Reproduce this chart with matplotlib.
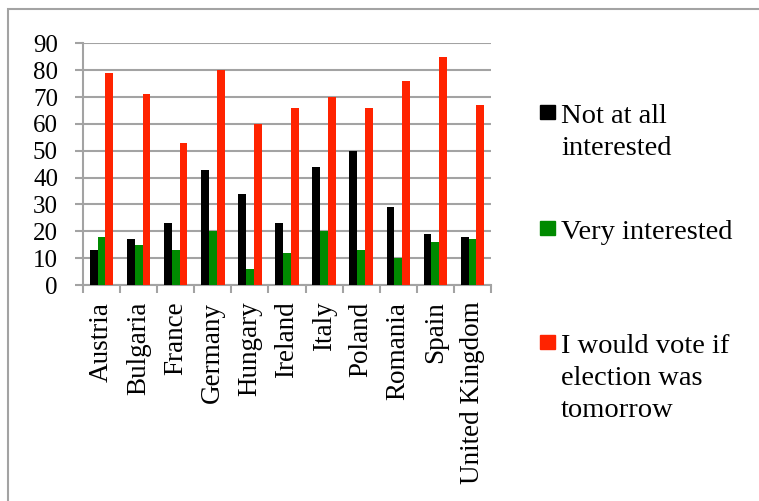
import numpy as np
import matplotlib
matplotlib.use("Agg")
import matplotlib.pyplot as plt
from matplotlib.patches import Rectangle

countries = ["Austria", "Bulgaria", "France", "Germany", "Hungary", "Ireland",
             "Italy", "Poland", "Romania", "Spain", "United Kingdom"]
not_interested = [13, 17, 23, 43, 34, 23, 44, 50, 29, 19, 18]
very_interested = [18, 15, 13, 20, 6, 12, 20, 13, 10, 16, 17]
would_vote = [79, 71, 53, 80, 60, 66, 70, 66, 76, 85, 67]

series = [not_interested, very_interested, would_vote]
labels = ["Not at all\ninterested", "Very interested",
          "I would vote if\nelection was\ntomorrow"]
colors = ["#000000", "#008a00", "#ff2300"]

plt.rcParams['font.family'] = ['Liberation Serif', 'DejaVu Serif']
grey = "#a3a3a3"

fig = plt.figure(figsize=(7.59, 5.01), dpi=100)
ax = fig.add_axes([83/759, 216/501, 408/759, 241.7/501])

x = np.arange(len(countries))
w = 0.21
for k, (vals, col) in enumerate(zip(series, colors)):
    ax.bar(x + (k - 1) * w, vals, width=w, color=col, zorder=3)

ax.set_xlim(-0.5, len(countries) - 0.5)
ax.set_ylim(0, 90)
ax.set_yticks(range(0, 91, 10))
ax.yaxis.grid(True, color=grey, lw=1.5, zorder=0)

# ticks sit on category boundaries, names in the middle
ax.set_xticks(np.arange(len(countries) + 1) - 0.5)
ax.set_xticklabels([])
ax.set_xticks(x, minor=True)
ax.set_xticklabels(countries, minor=True, rotation=90, fontsize=19.5)
ax.tick_params(axis='x', which='minor', length=0, pad=12)
ax.tick_params(axis='x', which='major', length=6, width=1.5, color=grey)
ax.tick_params(axis='y', length=6, width=1.5, color=grey, pad=12, labelsize=18)

for s in ["top", "right"]:
    ax.spines[s].set_visible(False)
for s in ["left", "bottom"]:
    ax.spines[s].set_color(grey)
    ax.spines[s].set_linewidth(1.5)

# legend entries placed by hand, swatch beside first line
tops = [105, 221, 335]
for lab, col, t in zip(labels, colors, tops):
    fig.patches.append(Rectangle((540/759, (501 - t - 14)/501), 15/759, 14/501,
                                 transform=fig.transFigure, color=col))
    fig.text(561/759, (501 - t + 1)/501, lab, fontsize=20.5, va='top',
             ha='left', linespacing=1.38)

# outer chart frame
fig.patches.append(Rectangle((7.5/759, -0.1), 1.2, (501 - 9)/501 + 0.1,
                             transform=fig.transFigure, fill=False,
                             edgecolor=grey, lw=1.5))

fig.savefig("out.png", dpi=100)
